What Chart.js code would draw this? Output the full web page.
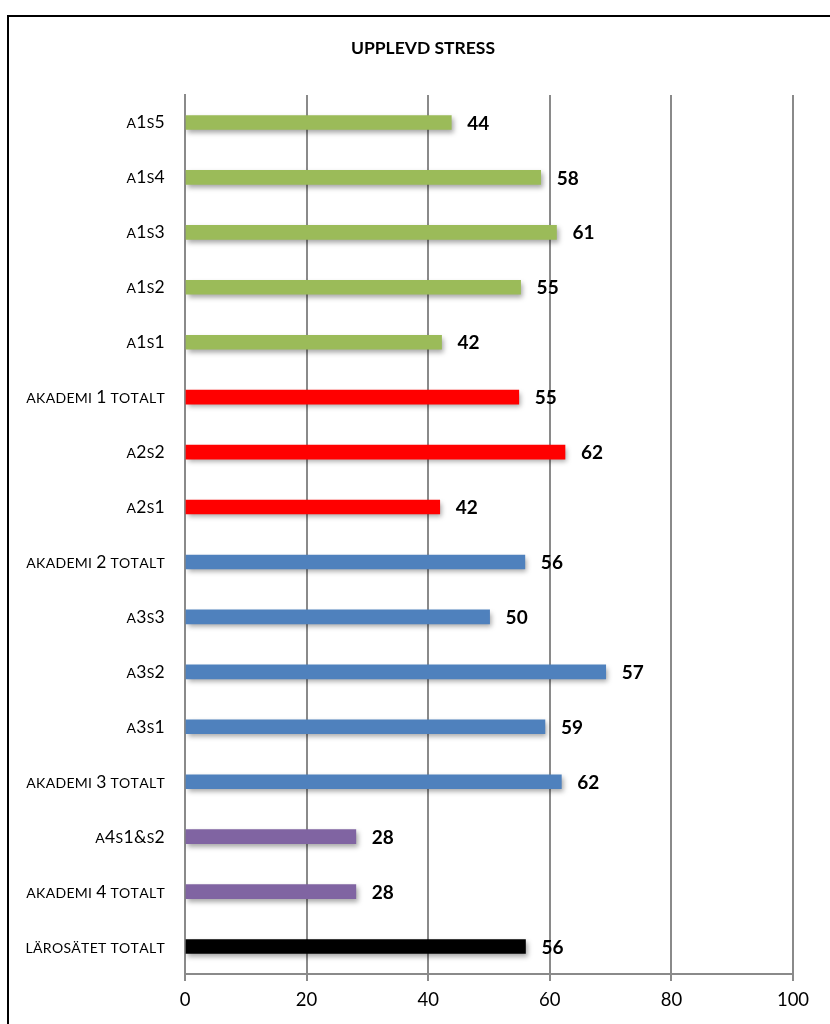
<!DOCTYPE html>
<html>
<head>
<meta charset="utf-8">
<script src="https://cdn.jsdelivr.net/npm/chart.js@4/dist/chart.umd.min.js"></script>
<style>
  body { margin: 0; background: #fff; overflow: hidden; }
  #wrap { position: relative; width: 830px; height: 1024px; }
  #frame {
    position: absolute; left: 7px; top: 15px; width: 900px; height: 1100px;
    border: 2px solid #000; pointer-events: none;
  }
</style>
</head>
<body>
<div id="wrap">
  <canvas id="grafico" width="830" height="1024"></canvas>
  <div id="frame"></div>
</div>
<script>
const categorias = [
  "A1S5", "A1S4", "A1S3", "A1S2", "A1S1",
  "AKADEMI 1 TOTALT", "A2S2", "A2S1",
  "AKADEMI 2 TOTALT", "A3S3", "A3S2", "A3S1",
  "AKADEMI 3 TOTALT", "A4S1&S2", "AKADEMI 4 TOTALT",
  "LÄROSÄTET TOTALT"
];

// bar lengths as drawn in the picture
const valores = [43.8, 58.5, 61.1, 55.2, 42.2, 54.9, 62.5, 41.9, 55.9, 50.1, 69.2, 59.2, 61.9, 28.1, 28.1, 56.0];

// numbers printed next to the bars
const rotulos = ["44", "58", "61", "55", "42", "55", "62", "42", "56", "50", "57", "59", "62", "28", "28", "56"];

const verde = "#9bbb59", vermelho = "#ff0000", azul = "#4f81bd", roxo = "#8064a2", preto = "#000000";
const cores = [
  verde, verde, verde, verde, verde,
  vermelho, vermelho, vermelho,
  azul, azul, azul, azul, azul,
  roxo, roxo,
  preto
];

const xTicks = [0, 20, 40, 60, 80, 100];

const FONTE = "Lato, 'Open Sans', sans-serif";
const cinza = "#8a8a8a";

// shadow under the bars
const sombra = {
  id: "sombra",
  beforeDatasetsDraw(chart) {
    const ctx = chart.ctx;
    ctx.save();
    ctx.shadowColor = "rgba(0,0,0,0.35)";
    ctx.shadowBlur = 5;
    ctx.shadowOffsetX = 2;
    ctx.shadowOffsetY = 3;
  },
  afterDatasetsDraw(chart) {
    chart.ctx.restore();
  }
};

// value labels at the end of each bar
const rotulosPlugin = {
  id: "rotulos",
  afterDatasetsDraw(chart) {
    const ctx = chart.ctx;
    const meta = chart.getDatasetMeta(0);
    ctx.save();
    ctx.font = "bold 19px " + FONTE;
    ctx.fillStyle = "#000";
    ctx.textAlign = "left";
    ctx.textBaseline = "middle";
    meta.data.forEach((bar, i) => {
      ctx.fillText(rotulos[i], bar.x + 16, bar.y + 1);
    });
    ctx.restore();
  }
};

// category labels in small caps: letters smaller, digits and & full size
const categoriasPlugin = {
  id: "categorias",
  afterDraw(chart) {
    const ctx = chart.ctx;
    const y = chart.scales.y;
    const direita = 165;
    const pequena = "14px " + FONTE;
    const grande = "17.5px " + FONTE;
    ctx.save();
    ctx.fillStyle = "#000";
    ctx.textBaseline = "alphabetic";
    ctx.textAlign = "left";
    categorias.forEach((txt, i) => {
      const partes = [...txt].map(ch => ({
        ch,
        font: /[0-9&]/.test(ch) ? grande : pequena
      }));
      let largura = 0;
      partes.forEach(p => {
        ctx.font = p.font;
        p.w = ctx.measureText(p.ch).width + 0.3;
        largura += p.w;
      });
      let x = direita - largura;
      const base = y.getPixelForTick(i) + 6;
      partes.forEach(p => {
        ctx.font = p.font;
        ctx.fillText(p.ch, x, base);
        x += p.w;
      });
    });
    ctx.restore();
  }
};

new Chart(document.getElementById("grafico"), {
  type: "bar",
  data: {
    labels: categorias,
    datasets: [{
      data: valores,
      backgroundColor: cores,
      barThickness: 14,
      borderWidth: 0
    }]
  },
  options: {
    indexAxis: "y",
    responsive: false,
    animation: false,
    layout: { padding: { left: 53, right: 37, top: 0, bottom: 0 } },
    plugins: {
      legend: { display: false },
      tooltip: { enabled: false },
      title: {
        display: true,
        text: "UPPLEVD STRESS",
        color: "#000",
        font: { family: FONTE, size: 17.5, weight: "bold" },
        padding: { top: 38, bottom: 36 }
      }
    },
    scales: {
      x: {
        min: 0,
        max: 100,
        afterBuildTicks: s => { s.ticks = xTicks.map(v => ({ value: v })); },
        afterFit: s => { s.height = 50; },
        ticks: {
          color: "#000",
          font: { family: FONTE, size: 18.5 },
          padding: 8
        },
        grid: { color: cinza, lineWidth: 2, tickLength: 7 },
        border: { color: cinza, width: 2 }
      },
      y: {
        afterFit: s => { s.width = 132; },
        ticks: { display: false },
        grid: { display: false },
        border: { display: true, color: cinza, width: 2 }
      }
    }
  },
  plugins: [sombra, rotulosPlugin, categoriasPlugin]
});
</script>
</body>
</html>
